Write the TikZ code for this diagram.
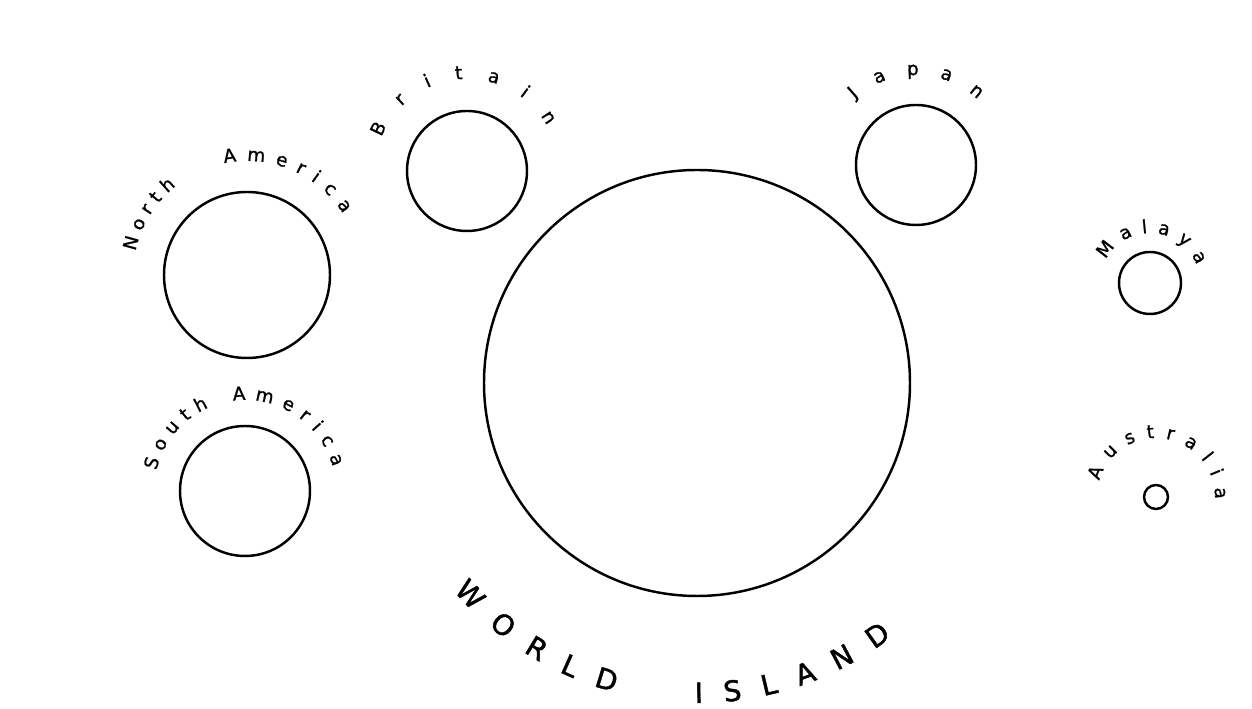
\documentclass[tikz,border=0pt]{standalone}
\usepackage{fontspec}
\setmainfont{DejaVu Sans}
\usetikzlibrary{calc,decorations.text}
\newcommand\mapfont{\fontsize{10.5}{10.5}\selectfont\addfontfeature{FakeBold=1}}
\newcommand\bigmapfont{\fontsize{16}{16}\selectfont\addfontfeature{FakeBold=1.5}}
\newcommand\arctext[5]{\path[curved={#5}] ($(#1)+(#2:#4)$) arc[start angle=#2,end angle=#3,radius=#4];}
\tikzset{
  land/.style={line width=1.4pt},
  curved/.style={decorate,decoration={text along path,text align={fit to path},text={#1}}}
}

\begin{document}
\begin{tikzpicture}[x=0.02cm,y=0.02cm]
\fill[white] (0,0) rectangle (1252,709);
\useasboundingbox (0,0) rectangle (1252,709);

\coordinate (namer) at (247,434);
\coordinate (samer) at (245,218);
\coordinate (brit) at (467,538);
\coordinate (japan) at (916,544);
\coordinate (world) at (697,326);
\coordinate (malaya) at (1150,426);
\coordinate (austr) at (1156,212);

\draw[land] (namer) circle[radius=83];
\draw[land] (samer) circle[radius=65];
\draw[land] (brit) circle[radius=60];
\draw[land] (japan) circle[radius=60];
\draw[land] (world) circle[radius=213];
\draw[land] (malaya) circle[radius=31];
\draw[land] (austr) circle[radius=12];

\arctext{namer}{168}{128.5}{114}{|\mapfont|North}
\arctext{namer}{101.5}{32.5}{114}{|\mapfont|America}
\arctext{samer}{167}{113.5}{91}{|\mapfont|South}
\arctext{samer}{97.5}{15.3}{91}{|\mapfont|America}
\arctext{brit}{158.4}{29.6}{92}{|\mapfont|Britain}
\arctext{japan}{133}{46.8}{90}{|\mapfont|Japan}
\arctext{malaya}{152}{21}{50}{|\mapfont|Malaya}
\arctext{austr}{164}{-2}{59}{|\mapfont|Australia}
\arctext{world}{220.5}{255}{320}{|\bigmapfont|WORLD}
\arctext{world}{269.6}{307.5}{320}{|\bigmapfont|ISLAND}

\end{tikzpicture}
\end{document}
